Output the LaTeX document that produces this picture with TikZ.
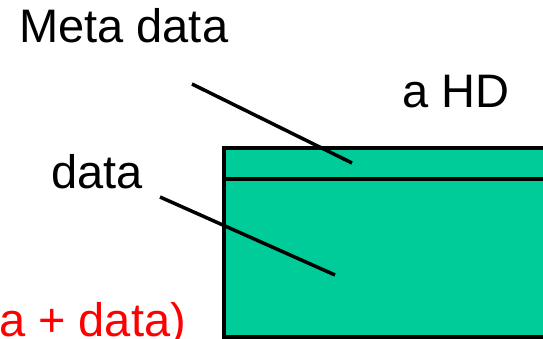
\documentclass[tikz,border=0pt]{standalone}
\usepackage{fontspec}
\setmainfont{Liberation Sans}
\definecolor{hdgreen}{RGB}{0,204,153}
\tikzset{
  lbl/.style={font=\fontsize{47}{56}\selectfont, inner sep=0pt, anchor=base west},
  leader/.style={line width=3.5pt},
  box/.style={draw=black, line width=4pt, fill=hdgreen}
}
\begin{document}
\begin{tikzpicture}[x=1pt,y=-1pt]
\useasboundingbox (0,0) rectangle (543,339);
\clip (0,0) rectangle (543,339);
\fill[white] (0,0) rectangle (543,339);
% hard disk
\draw[box] (224,148.5) rectangle (570,337);
\coordinate (divL) at (224,179.5);
\coordinate (divR) at (570,179.5);
\draw[line width=4pt] (divL) -- (divR);
% labels
\node[lbl] (meta) at (19,43) {Meta data};
\node[lbl] (hd) at (402,108) {a HD};
\node[lbl] (data) at (51,189) {data};
\node[lbl, text=red] (sum) at (-1,336) {a + data)};
% leaders
\coordinate (m1) at (192,84);
\coordinate (m2) at (352,163);
\coordinate (d1) at (160,197);
\coordinate (d2) at (335,275);
\draw[leader] (m1) -- (m2);
\draw[leader] (d1) -- (d2);
\end{tikzpicture}
\end{document}
